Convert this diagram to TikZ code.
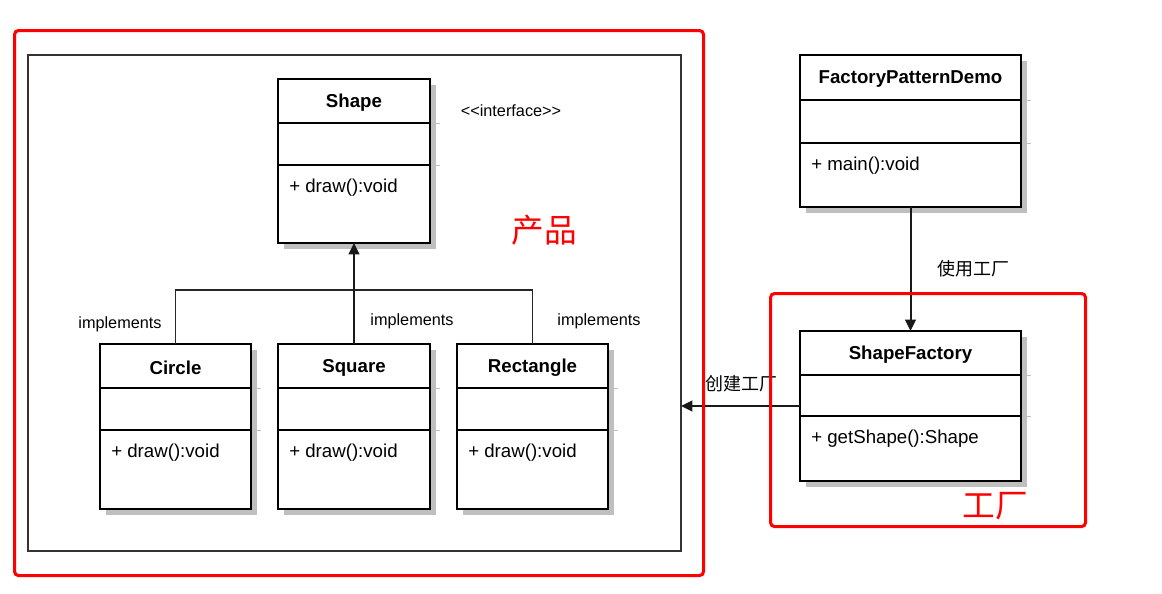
\documentclass[tikz,border=0pt]{standalone}
\usepackage{fontspec}
\setmainfont{Liberation Sans}
\newfontfamily\cjk{Noto Sans CJK SC}
\usetikzlibrary{arrows.meta}
\tikzset{
  clsbox/.style={draw=black, line width=1.8pt, fill=white, inner sep=0pt, outer sep=0pt, anchor=north west},
  shadowc/.style={fill=black!25},
  sepline/.style={draw=black, line width=1.5pt},
  tickline/.style={draw=black!25, line width=0.5pt},
  ttl/.style={font=\bfseries\fontsize{14}{16}\selectfont, inner sep=0pt},
  mth/.style={font=\fontsize{14}{16}\selectfont, inner sep=0pt, anchor=west},
  lbl/.style={font=\fontsize{12.2}{14}\selectfont, inner sep=0pt},
  cnlbl/.style={font=\cjk\fontsize{13.5}{15}\selectfont, inner sep=0pt},
  redlbl/.style={font=\cjk\fontsize{24.5}{26}\selectfont, text=red, inner sep=0pt},
  redframe/.style={draw=red, line width=2.3pt, rounded corners=3pt},
  conn/.style={draw=black!90, line width=1.5pt},
  thinconn/.style={draw=black!85, line width=1pt},
  arr/.style={conn, -{Triangle[length=8.5pt,width=8pt]}},
}
% #1 name, #2 x1, #3 y1, #4 x2, #5 y2, #6 sep1, #7 sep2, #8 title, #9 method
\newcommand\umlclassbox[9]{%
  \fill[shadowc] ({#2+6},{#3+6}) rectangle ({#4+6},{#5+6});
  \draw[tickline] ({#4+2},#6) -- ({#4+10},#6);
  \draw[tickline] ({#4+2},#7) -- ({#4+10},#7);
  \node[clsbox, minimum width={(#4-#2)*0.75pt}, minimum height={(#5-#3)*0.75pt}] (#1) at (#2,#3) {};
  \coordinate (#1sa) at (#2,#6);
  \coordinate (#1sb) at (#2,#7);
  \draw[sepline] (#1sa) -- (#1sa -| #1.east);
  \draw[sepline] (#1sb) -- (#1sb -| #1.east);
  \node[ttl] (#1title) at ({(#2+#4)/2},{#3+24}) {#8};
  \node[mth] (#1method) at ({#2+11},{#7+23}) {#9};
}
\begin{document}
\begin{tikzpicture}[x=0.75pt,y=-0.75pt]
\useasboundingbox[fill=white] (0,0) rectangle (1162,593);

% outer frame of product package
\node[draw=black!80, line width=1.5pt, minimum width={653*0.75pt}, minimum height={496*0.75pt}, inner sep=0pt, outer sep=0pt, anchor=north west] (frame) at (28,55) {};

% classes
\umlclassbox{shape}{278}{79}{430}{243}{123}{165}{Shape}{+ draw():void}
\umlclassbox{circle}{100}{344}{251}{509}{388}{430}{Circle}{+ draw():void}
\umlclassbox{square}{278}{344}{430}{509}{388}{430}{Square}{+ draw():void}
\umlclassbox{rect}{457}{344}{608}{509}{388}{430}{Rectangle}{+ draw():void}
\umlclassbox{demo}{800}{55}{1021}{207}{100}{143}{FactoryPatternDemo}{+ main():void}
\umlclassbox{sf}{800}{331}{1021}{481}{375}{416}{ShapeFactory}{+ getShape():Shape}

\node[lbl] (iface) at (511,111) {<{}<interface>{}>};

% implementations
\draw[thinconn] (circle.north) -- ++(0,-54) -| (rect.north);
\draw[arr] (square.north) -- (shape.south);
\node[lbl] (impl1) at (120,324) {implements};
\node[lbl] (impl2) at (412,321) {implements};
\node[lbl] (impl3) at (599,321) {implements};

% factory connectors
\draw[arr] (demo.south) -- (sf.north);
\node[cnlbl] (use) at (973,269) {使用工厂};
\draw[arr] (sf.west) -- (sf.west -| frame.east);
\node[cnlbl] (create) at (741,384) {创建工厂};

% red annotations
\node[redframe, minimum width={689*0.75pt}, minimum height={545*0.75pt}, inner sep=0pt, anchor=north west] (prodbox) at (13,29) {};
\node[redframe, minimum width={315*0.75pt}, minimum height={233*0.75pt}, inner sep=0pt, anchor=north west] (factbox) at (769,292) {};
\node[redlbl] (prod) at (544,230) {产品};
\node[redlbl] (fact) at (995,506) {工厂};
\end{tikzpicture}
\end{document}
